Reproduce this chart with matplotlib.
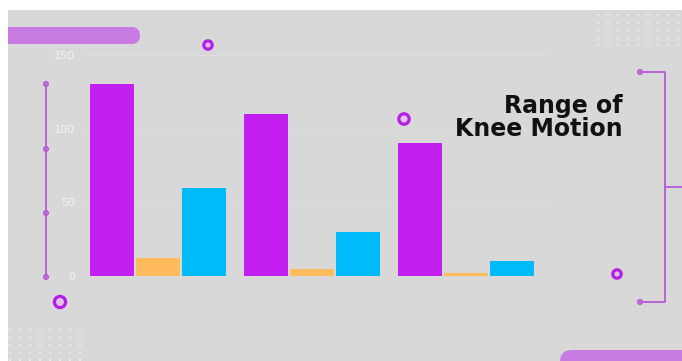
import numpy as np
import matplotlib.pyplot as plt
from matplotlib.patches import FancyBboxPatch, Rectangle, Circle

# data
groups = [0, 1, 2]
purple_vals = [130, 110, 90]
orange_vals = [12, 5, 2]
blue_vals = [60, 30, 10]
yticks = [0, 50, 100, 150]

W, H = 682, 361
fig = plt.figure(figsize=(W / 100, H / 100), dpi=100)
fig.patch.set_facecolor("white")

# decoration layer in pixel coordinates
bg = fig.add_axes([0, 0, 1, 1], zorder=0)
bg.set_xlim(0, W)
bg.set_ylim(H, 0)
bg.axis("off")
panel = Rectangle((8, 10), W - 8, H - 10, color="#d8d8d8", lw=0)
bg.add_patch(panel)

deco = "#c77be2"
line_c = "#b85ad8"
ring_c = "#b41ee6"

# rounded pills (clipped to the grey panel)
p1 = FancyBboxPatch((-20, 27), 160, 17, boxstyle="round,pad=0,rounding_size=8.5",
                    color=deco, lw=0)
p2 = FancyBboxPatch((560, 350), 150, 30, boxstyle="round,pad=0,rounding_size=12",
                    color=deco, lw=0)
for p in (p1, p2):
    bg.add_patch(p)
    p.set_clip_path(panel)

# left vertical line with small circles
bg.plot([46, 46], [84, 277], color=line_c, lw=1.3)
for yy in [84, 149, 213, 277]:
    bg.add_patch(Circle((46, yy), 2.2, facecolor="#d8d8d8", edgecolor=line_c, lw=1.2))

# right bracket
bg.plot([640, 665, 665, 640], [72, 72, 302, 302], color=line_c, lw=1.3)
bg.plot([665, 682], [187, 187], color=line_c, lw=1.3)
for yy in [72, 302]:
    bg.add_patch(Circle((640, yy), 2.2, facecolor="#d8d8d8", edgecolor=line_c, lw=1.2))

# rings
for (cx, cy, r) in [(208, 45, 4.2), (404, 119, 5.2), (60, 302, 5.6), (617, 274, 4.2)]:
    bg.add_patch(Circle((cx, cy), r, facecolor="#e2c0ee", edgecolor=ring_c, lw=2.3))

# dot grids
for x0, x1, y0, y1 in [(598, 682, 15, 46), (10, 82, 330, 361)]:
    xs = np.arange(x0, x1, 10)
    ys = np.arange(y0, y1, 7.5)
    gx, gy = np.meshgrid(xs, ys)
    bg.scatter(gx.ravel(), gy.ravel(), s=3, marker="s", color="#eaeaea", lw=0)

# title
fig.text(623 / W, 1 - 106 / H, "Range of", ha="right", va="center", fontsize=17,
         fontweight="bold", color="#111111", family="DejaVu Sans", zorder=5)
fig.text(623 / W, 1 - 129 / H, "Knee Motion", ha="right", va="center", fontsize=17,
         fontweight="bold", color="#111111", family="DejaVu Sans", zorder=5)

# bar axes
ax = fig.add_axes([85 / W, 85 / H, 460 / W, 221 / H], zorder=1)
ax.set_facecolor("none")
x = np.array(groups)
step = 46 / 154
bw = 44 / 154
ax.bar(x - step, purple_vals, width=bw, color="#c21eef", zorder=3)
ax.bar(x, orange_vals, width=bw, color="#ffbb5c", zorder=3)
ax.bar(x + step, blue_vals, width=bw, color="#00bbf9", zorder=3)
ax.set_xlim(-0.474, 2.513)
ax.set_ylim(0, 150)
ax.set_yticks(yticks)
ax.set_yticklabels([str(t) for t in yticks], color="#f4f4f4", fontsize=8)
ax.tick_params(axis="y", length=0, pad=7)
ax.set_xticks([])
for s in ax.spines.values():
    s.set_visible(False)
ax.grid(axis="y", color="#dedede", lw=0.8, zorder=0)

fig.savefig("out.png", dpi=100)
